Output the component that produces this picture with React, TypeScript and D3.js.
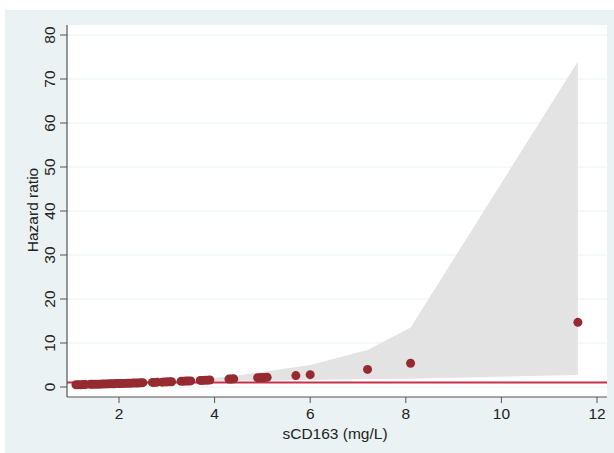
import React from 'react';
import * as d3 from 'd3';

// point estimates (sCD163 mg/L, hazard ratio)
const sCD163 = [
  1.1, 1.15, 1.2, 1.25, 1.3, 1.4, 1.45, 1.5, 1.55, 1.6, 1.65, 1.7, 1.75, 1.8, 1.85, 1.9, 1.95,
  2.0, 2.05, 2.1, 2.15, 2.2, 2.25, 2.3, 2.35, 2.4, 2.45, 2.5,
  2.7, 2.75, 2.8, 2.9, 2.95, 3.0, 3.05, 3.1,
  3.3, 3.35, 3.4, 3.45, 3.5,
  3.7, 3.75, 3.8, 3.85, 3.9,
  4.3, 4.35, 4.4,
  4.9, 4.95, 5.0, 5.05, 5.1,
  5.7, 6.0, 7.2, 8.1, 11.6,
];
const hazard = [
  0.5, 0.5, 0.52, 0.55, 0.55, 0.6, 0.6, 0.62, 0.65, 0.65, 0.68, 0.7, 0.7, 0.72, 0.75, 0.75, 0.78,
  0.8, 0.8, 0.82, 0.85, 0.85, 0.88, 0.9, 0.9, 0.92, 0.95, 0.98,
  1.05, 1.05, 1.1, 1.1, 1.15, 1.15, 1.2, 1.2,
  1.3, 1.32, 1.35, 1.35, 1.38,
  1.5, 1.5, 1.55, 1.55, 1.6,
  1.8, 1.82, 1.85,
  2.1, 2.12, 2.15, 2.18, 2.2,
  2.6, 2.8, 4.0, 5.4, 14.7,
];

// confidence band
const bandX = [1.1, 2.5, 3.9, 4.4, 5.1, 6.0, 7.2, 8.1, 11.6];
const bandLo = [0.3, 0.75, 1.3, 1.4, 1.5, 1.6, 1.8, 1.9, 2.7];
const bandHi = [0.8, 1.2, 2.0, 2.5, 3.6, 5.0, 8.4, 13.5, 74];

const xTicks = [2, 4, 6, 8, 10, 12];
const yTicks = [0, 10, 20, 30, 40, 50, 60, 70, 80];
const refLine = 1;

const W = 614;
const H = 453;
const left = 67;
const right = 607;
const top = 25;
const bottom = 397;

const App = () => {
  // pixel calibration: x=2 -> 119, x=12 -> 597 ; y=0 -> 387, y=80 -> 35
  const x = d3.scaleLinear().domain([2, 12]).range([119, 597]);
  const y = d3.scaleLinear().domain([0, 80]).range([387, 35]);

  const band = bandX.map((v, i) => ({ x: v, lo: bandLo[i], hi: bandHi[i] }));
  const area = d3
    .area<{ x: number; lo: number; hi: number }>()
    .x(d => x(d.x))
    .y0(d => y(d.lo))
    .y1(d => y(d.hi));

  const font = '"Liberation Sans", Arial, Helvetica, sans-serif';
  const fs = 15.5;

  return (
    <svg width={W} height={H} style={{ position: 'absolute', left: 0, top: 0 }} fontFamily={font}>
      <rect x={0} y={0} width={W} height={H} fill="#ffffff" />
      <rect x={5} y={10} width={W - 5} height={H - 10} fill="#eaf2f3" />
      <rect x={left} y={top} width={right - left} height={bottom - top} fill="#ffffff" />

      {/* grid */}
      {yTicks.map(t => (
        <line key={'g' + t} x1={left} x2={right} y1={y(t)} y2={y(t)} stroke="#eaf2f3" strokeWidth={1.2} />
      ))}

      <path d={area(band) || ''} fill="#e3e3e3" />

      <line x1={left} x2={right} y1={y(refLine)} y2={y(refLine)} stroke="#c8304a" strokeWidth={2} />

      {sCD163.map((v, i) => (
        <circle key={i} cx={x(v)} cy={y(hazard[i])} r={4.5} fill="#952a31" />
      ))}

      {/* axes */}
      <line x1={left} x2={left} y1={top} y2={bottom} stroke="#555" strokeWidth={1.2} />
      <line x1={left} x2={right} y1={bottom} y2={bottom} stroke="#555" strokeWidth={1.2} />

      {yTicks.map(t => (
        <g key={'y' + t}>
          <line x1={left - 7} x2={left} y1={y(t)} y2={y(t)} stroke="#555" strokeWidth={1} />
          <text
            transform={`translate(${left - 18},${y(t)}) rotate(-90)`}
            textAnchor="middle"
            dominantBaseline="central"
            fontSize={fs}
            fill="#222"
          >
            {t}
          </text>
        </g>
      ))}

      {xTicks.map(t => (
        <g key={'x' + t}>
          <line x1={x(t)} x2={x(t)} y1={bottom} y2={bottom + 6} stroke="#555" strokeWidth={1} />
          <text x={x(t)} y={bottom + 16} textAnchor="middle" dominantBaseline="central" fontSize={fs} fill="#222">
            {t}
          </text>
        </g>
      ))}

      <text x={(left + right) / 2 - 2} y={433} textAnchor="middle" dominantBaseline="central" fontSize={fs} fill="#222">
        sCD163 (mg/L)
      </text>
      <text
        transform={`translate(32,210) rotate(-90)`}
        textAnchor="middle"
        dominantBaseline="central"
        fontSize={fs}
        fill="#222"
      >
        Hazard ratio
      </text>
    </svg>
  );
};

export default App;
